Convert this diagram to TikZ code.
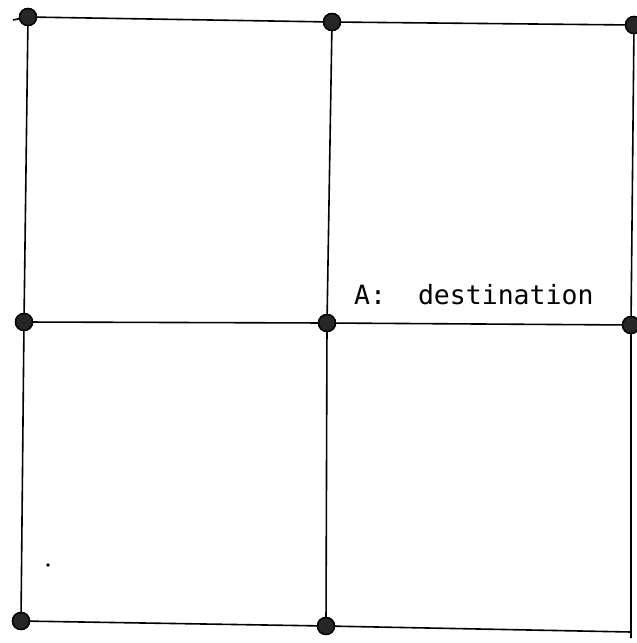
\documentclass[tikz,border=0pt]{standalone}
\usepackage{fontspec}
\newfontfamily\monofont{DejaVu Sans Mono}
\begin{document}
\begin{tikzpicture}[x=1pt,y=-1pt,
  dotnode/.style={circle,draw=black,line width=1.4pt,fill=black!85,minimum size=17pt,inner sep=0pt},
  gridline/.style={draw=black,line width=1.6pt},
  label/.style={font=\monofont\fontsize{26.5}{30}\selectfont,anchor=base west,inner sep=0pt}]
\useasboundingbox (0,0) rectangle (637,643);
\node[dotnode] (tl) at (28,17) {};
\node[dotnode] (tm) at (332,22) {};
\node[dotnode] (tr) at (634,25) {};
\node[dotnode] (ml) at (24,322) {};
\node[dotnode] (mm) at (327,323) {};
\node[dotnode] (mr) at (631,325) {};
\node[dotnode] (bl) at (21,621) {};
\node[dotnode] (bm) at (326,626) {};
\coordinate (br) at (631,632);
\coordinate (brend) at (631,638);
\coordinate (tlstub) at (13,20);
% horizontal lines
\draw[gridline] (tlstub) -- (tl) -- (tm) -- (tr);
\draw[gridline] (ml) -- (mm) -- (mr);
\draw[gridline] (bl) -- (bm) -- (br);
% vertical lines
\draw[gridline] (tl) -- (ml) -- (bl);
\draw[gridline] (tm) -- (mm) -- (bm);
\draw[gridline] (tr) -- (mr) -- (brend);
% redraw dots above lines
\foreach \p in {(28,17),(332,22),(634,25),(24,322),(327,323),(631,325),(21,621),(326,626)}
  \node[dotnode] at \p {};
\node[label] (dest) at (354,304) {A:\ \ destination};
\fill[black] (48,565) circle (1.8);
\end{tikzpicture}
\end{document}
